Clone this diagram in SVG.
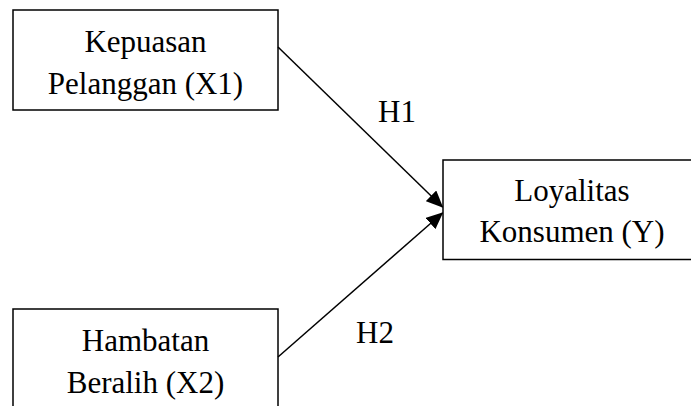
<svg xmlns="http://www.w3.org/2000/svg" width="691" height="406" viewBox="0 0 691 406">
<style>
.box{fill:#fff;stroke:#000;stroke-width:1.5}
.t{font-family:"Liberation Serif","Times New Roman",serif;font-size:31px;fill:#000;text-anchor:middle}
.c{stroke:#000;stroke-width:1.5;fill:none}
</style>
<defs>
<marker id="ah" markerWidth="17" markerHeight="15" refX="16" refY="7.5" orient="auto" markerUnits="userSpaceOnUse">
<path d="M0,0 L17,7.5 L0,15 Z" fill="#000"/>
</marker>
</defs>
<rect width="691" height="406" fill="#fff"/>
<g id="x1">
<rect class="box" x="13" y="10" width="265" height="100"/>
<text class="t" x="145.5" y="52">Kepuasan</text>
<text class="t" x="145.5" y="93.5">Pelanggan (X1)</text>
</g>
<g id="x2">
<rect class="box" x="13" y="309" width="265" height="110"/>
<text class="t" x="145.5" y="351">Hambatan</text>
<text class="t" x="145.5" y="392.5">Beralih (X2)</text>
</g>
<g id="y">
<rect class="box" x="443" y="160" width="260" height="99.5"/>
<text class="t" x="572" y="201">Loyalitas</text>
<text class="t" x="572" y="242">Konsumen (Y)</text>
</g>
<g id="connectors">
<line class="c" x1="278" y1="47" x2="442.5" y2="207" marker-end="url(#ah)"/>
<line class="c" x1="278" y1="357" x2="442.5" y2="213" marker-end="url(#ah)"/>
<text class="t" x="397" y="122">H1</text>
<text class="t" x="375" y="343">H2</text>
</g>
</svg>
